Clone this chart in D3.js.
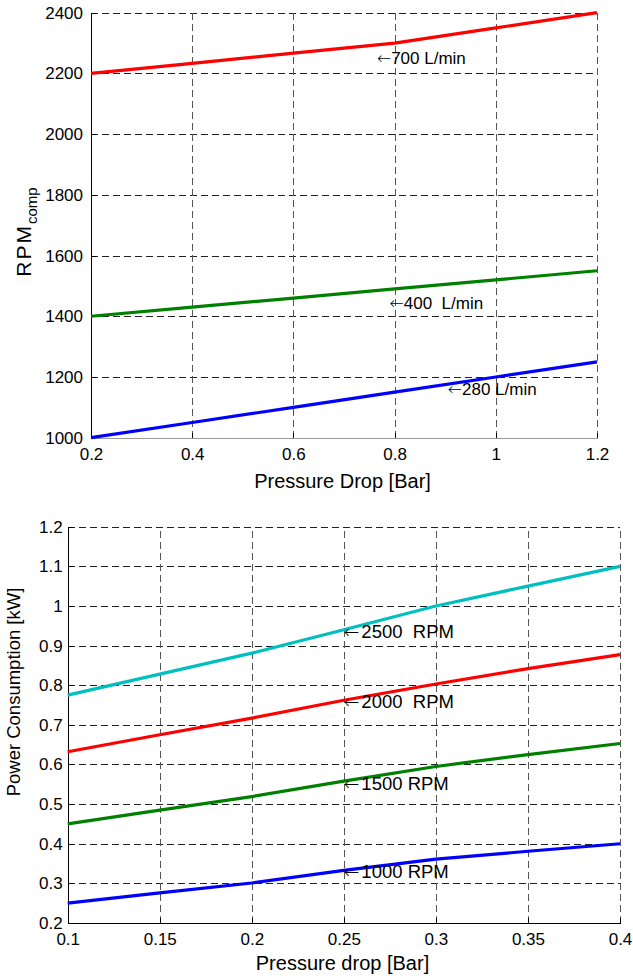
<!DOCTYPE html>
<html>
<head>
<meta charset="utf-8">
<script src="https://cdn.jsdelivr.net/npm/d3@7"></script>
<style>
  html, body { margin: 0; padding: 0; background: #fff; }
  svg { display: block; font-family: "Liberation Sans", Arial, Helvetica, sans-serif; }
</style>
</head>
<body>
<svg id="chart" width="633" height="979"></svg>
<script>
// ---------- Data: top chart (RPM vs pressure drop) ----------
const topX = [0.2, 0.4, 0.6, 0.8, 1.0, 1.2];
const rpm700 = [2200, 2233, 2267, 2300, 2350, 2400];
const rpm400 = [1400, 1430, 1460, 1490, 1520, 1550];
const rpm280 = [1000, 1050, 1100, 1150, 1200, 1250];
const topXTicks = [0.2, 0.4, 0.6, 0.8, 1, 1.2];
const topYTicks = [1000, 1200, 1400, 1600, 1800, 2000, 2200, 2400];
const topLabels = [
  { text: "700 L/min", x: 0.765, y: 2250 },
  { text: "400  L/min", x: 0.79, y: 1443 },
  { text: "280 L/min", x: 0.905, y: 1161 }
];

// ---------- Data: bottom chart (power vs pressure drop) ----------
const botX = [0.1, 0.15, 0.2, 0.25, 0.3, 0.35, 0.4];
const pw2500 = [0.775, 0.828, 0.881, 0.940, 1.000, 1.050, 1.100];
const pw2000 = [0.632, 0.675, 0.717, 0.762, 0.803, 0.842, 0.877];
const pw1500 = [0.450, 0.485, 0.519, 0.558, 0.595, 0.625, 0.653];
const pw1000 = [0.250, 0.276, 0.301, 0.333, 0.361, 0.381, 0.400];
const botXTicks = [0.1, 0.15, 0.2, 0.25, 0.3, 0.35, 0.4];
const botYTicks = [0.2, 0.3, 0.4, 0.5, 0.6, 0.7, 0.8, 0.9, 1.0, 1.1, 1.2];
const botLabels = [
  { text: "2500  RPM", x: 0.25, y: 0.935 },
  { text: "2000  RPM", x: 0.25, y: 0.759 },
  { text: "1500 RPM", x: 0.25, y: 0.553 },
  { text: "1000 RPM", x: 0.25, y: 0.330 }
];

const svg = d3.select("#chart");

function panel(cfg) {
  const x = d3.scaleLinear().domain(cfg.xDomain).range([cfg.left, cfg.right]);
  const y = d3.scaleLinear().domain(cfg.yDomain).range([cfg.bottom, cfg.top]);
  const g = svg.append("g");

  // horizontal grid
  g.append("g")
    .attr("transform", `translate(${cfg.left},0)`)
    .attr("shape-rendering", "crispEdges")
    .call(d3.axisLeft(y).tickValues(cfg.yTicks).tickSize(-(cfg.right - cfg.left)).tickFormat(""))
    .call(a => a.select(".domain").remove())
    .call(a => a.selectAll("line").attr("stroke", "#222").attr("stroke-dasharray", "7,4"));
  // vertical grid
  g.append("g")
    .attr("transform", `translate(0,${cfg.bottom})`)
    .attr("shape-rendering", "crispEdges")
    .call(d3.axisBottom(x).tickValues(cfg.xTicks).tickSize(-(cfg.bottom - cfg.top)).tickFormat(""))
    .call(a => a.select(".domain").remove())
    .call(a => a.selectAll("line").attr("stroke", "#555").attr("stroke-dasharray", "7,4"));

  // axes with labels
  const yAx = g.append("g")
    .attr("transform", `translate(${cfg.left},0)`)
    .attr("shape-rendering", "crispEdges")
    .call(d3.axisLeft(y).tickValues(cfg.yTicks).tickSizeInner(-5).tickSizeOuter(0).tickPadding(cfg.yPad).tickFormat(d3.format("~g")));
  yAx.select(".domain").attr("stroke", "#000");
  yAx.selectAll("line").attr("stroke", "#000");
  yAx.selectAll("text").attr("font-size", cfg.tickFont).attr("fill", "#000");

  const xAx = g.append("g")
    .attr("transform", `translate(0,${cfg.bottom})`)
    .attr("shape-rendering", "crispEdges")
    .call(d3.axisBottom(x).tickValues(cfg.xTicks).tickSizeInner(-5).tickSizeOuter(0).tickPadding(cfg.xPad).tickFormat(d3.format("~g")));
  xAx.select(".domain").attr("stroke", cfg.bottomAxisColor);
  xAx.selectAll("line").attr("stroke", "#000");
  xAx.selectAll("text").attr("font-size", cfg.tickFont).attr("fill", "#000");
  g.selectAll("g").attr("font-family", null);

  // lines
  const line = d3.line().x(d => x(d[0])).y(d => y(d[1]));
  cfg.series.forEach(s => {
    g.append("path")
      .datum(cfg.xs.map((v, i) => [v, s.values[i]]))
      .attr("fill", "none")
      .attr("stroke", s.color)
      .attr("stroke-width", 3.2)
      .attr("stroke-linejoin", "round")
      .attr("d", line);
  });

  // annotations (MATLAB-style \leftarrow text)
  cfg.labels.forEach(l => {
    const t = g.append("text")
      .attr("x", x(l.x))
      .attr("y", y(l.y))
      .attr("dy", "0.36em")
      .attr("font-size", cfg.annFont)
      .attr("fill", "#000")
      .attr("xml:space", "preserve")
      .style("white-space", "pre");
    t.append("tspan").attr("font-family", "'DejaVu Sans'").attr("font-weight", 200).text("\u2190");
    t.append("tspan").attr("dx", cfg.annGap).text(l.text);
  });
  return g;
}

panel({
  xDomain: [0.2, 1.2], yDomain: [1000, 2400],
  left: 91, right: 597, top: 12.7, bottom: 437.7,
  xTicks: topXTicks, yTicks: topYTicks,
  tickFont: 17, annFont: 17, annGap: 0, xPad: 10, yPad: 8,
  bottomAxisColor: "#999",
  xs: topX,
  series: [
    { values: rpm700, color: "#ff0000" },
    { values: rpm400, color: "#008000" },
    { values: rpm280, color: "#0000ff" }
  ],
  labels: topLabels
});

panel({
  xDomain: [0.1, 0.4], yDomain: [0.2, 1.2],
  left: 67.7, right: 620, top: 526.7, bottom: 923,
  xTicks: botXTicks, yTicks: botYTicks,
  tickFont: 17, annFont: 18.5, annGap: 2, xPad: 10, yPad: 5,
  bottomAxisColor: "#000",
  xs: botX,
  series: [
    { values: pw2500, color: "#00bfbf" },
    { values: pw2000, color: "#ff0000" },
    { values: pw1500, color: "#008000" },
    { values: pw1000, color: "#0000ff" }
  ],
  labels: botLabels
});

// axis titles
svg.append("text")
  .attr("x", 342.5).attr("y", 488)
  .attr("text-anchor", "middle").attr("font-size", 20)
  .text("Pressure Drop [Bar]");

svg.append("text")
  .attr("x", 342.5).attr("y", 970)
  .attr("text-anchor", "middle").attr("font-size", 20)
  .text("Pressure drop [Bar]");

const yt = svg.append("text")
  .attr("transform", "translate(31,232) rotate(-90)")
  .attr("text-anchor", "middle");
yt.append("tspan").attr("font-size", 21).attr("letter-spacing", 2).text("RPM");
yt.append("tspan").attr("font-size", 15).attr("dy", 6).text("comp");

svg.append("text")
  .attr("transform", "translate(20,692) rotate(-90)")
  .attr("text-anchor", "middle").attr("font-size", 18.5)
  .text("Power Consumption [kW]");
</script>
</body>
</html>
